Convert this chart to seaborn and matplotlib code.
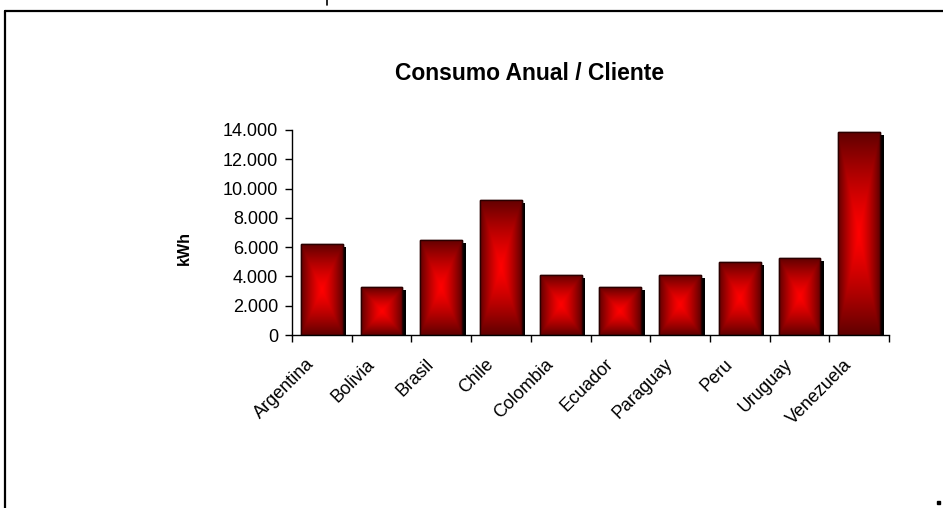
import matplotlib
matplotlib.use('Agg')

import matplotlib.pyplot as plt
import matplotlib.patheffects as pe
import matplotlib.ticker as ticker
import matplotlib.transforms as mtransforms
from matplotlib.lines import Line2D
from matplotlib.patches import Rectangle
import numpy as np
import seaborn as sns


# Data
countries = ['Argentina', 'Bolivia', 'Brasil', 'Chile', 'Colombia',
             'Ecuador', 'Paraguay', 'Peru', 'Uruguay', 'Venezuela']
consumo = [6200, 3250, 6500, 9250, 4100, 3250, 4100, 5000, 5250, 13850]
y_ticks = [0, 2000, 4000, 6000, 8000, 10000, 12000, 14000]


def dot_thousands(v, pos):
    return '{:,.0f}'.format(v).replace(',', '.')


# Rectangular "from centre" gradient, bright red -> dark red
def box_gradient(n=150):
    u = np.linspace(-1, 1, n)
    uu, vv = np.meshgrid(u, u)
    t = np.maximum(np.abs(uu), np.abs(vv))
    img = np.zeros((n, n, 3))
    img[..., 0] = 1.0 - 0.62 * t ** 1.3
    return img


def main():
    sns.set_theme(style='white')
    plt.rcParams['font.family'] = ['Liberation Sans', 'DejaVu Sans']

    W, H = 943, 508
    fig = plt.figure(figsize=(W / 100, H / 100), dpi=100)
    fig.patch.set_facecolor('white')
    ax = fig.add_axes([292 / W, 1 - 335 / H, 597 / W, 205 / H])
    ax.set_facecolor('white')

    sns.barplot(x=countries, y=consumo, color='red', width=0.7,
                edgecolor='#2a0000', linewidth=1.0, saturation=1, ax=ax)

    grad = box_gradient()
    for p in list(ax.patches):
        p.set_path_effects([pe.withSimplePatchShadow(offset=(2.6, -2.2),
                                                     shadow_rgbFace='black',
                                                     alpha=1.0)])
        x0, y0 = p.get_x(), p.get_y()
        x1, y1 = x0 + p.get_width(), y0 + p.get_height()
        im = ax.imshow(grad, extent=(x0, x1, y0, y1), aspect='auto',
                       interpolation='bilinear', zorder=p.get_zorder() + 0.1)
        im.set_clip_path(p)
        ax.add_patch(Rectangle((x0, y0), x1 - x0, y1 - y0, fill=False,
                               edgecolor='#2a0000', linewidth=1.0,
                               zorder=p.get_zorder() + 0.2))

    ax.set_xlim(-0.5, len(countries) - 0.5)
    ax.set_ylim(0, 14000)
    ax.set_yticks(y_ticks)
    ax.yaxis.set_major_formatter(ticker.FuncFormatter(dot_thousands))

    # x: labels at centres, tick marks at category boundaries
    ax.set_xticks(range(len(countries)))
    ax.set_xticklabels(countries, rotation=45, ha='right',
                       rotation_mode='anchor')
    ax.set_xticks(np.arange(-0.5, len(countries)), minor=True)
    ax.tick_params(axis='x', which='major', length=0, pad=15,
                   labelsize=13, colors='black')
    ax.tick_params(axis='x', which='minor', length=5, width=1,
                   direction='out', color='black', bottom=True)
    ax.tick_params(axis='y', length=5, width=1, direction='out',
                   left=True, labelsize=13, colors='black', pad=5)

    # shift the rotated labels a little to the left, as in the original
    shift = mtransforms.ScaledTranslation(-0.16, 0, fig.dpi_scale_trans)
    for lab in ax.get_xticklabels():
        lab.set_transform(lab.get_transform() + shift)

    for side in ['top', 'right']:
        ax.spines[side].set_visible(False)
    for side in ['left', 'bottom']:
        ax.spines[side].set_color('black')
        ax.spines[side].set_linewidth(1)

    ax.set_xlabel('')
    ax.set_ylabel('kWh', fontsize=11.5, fontweight='bold', color='black')
    ax.yaxis.set_label_coords(-0.167, 0.424)

    fig.text(530 / W, 1 - 73 / H, 'Consumo Anual / Cliente', ha='center',
             va='center', fontsize=16.5, fontweight='bold', color='black')

    # outer frame of the chart area
    fig.add_artist(Line2D([5 / W, 1.0], [1 - 11 / H, 1 - 11 / H],
                          color='black', linewidth=1.6))
    fig.add_artist(Line2D([5 / W, 5 / W], [0.0, 1 - 11 / H],
                          color='black', linewidth=1.6))
    fig.add_artist(Line2D([327 / W, 327 / W], [1 - 5 / H, 1.0],
                          color='black', linewidth=1.2))
    fig.add_artist(Rectangle((937 / W, 1 - 504 / H), 3 / W, 3 / H,
                             transform=fig.transFigure, color='black'))

    fig.savefig('out.png', dpi=100)
    plt.close(fig)


if __name__ == '__main__':
    main()
